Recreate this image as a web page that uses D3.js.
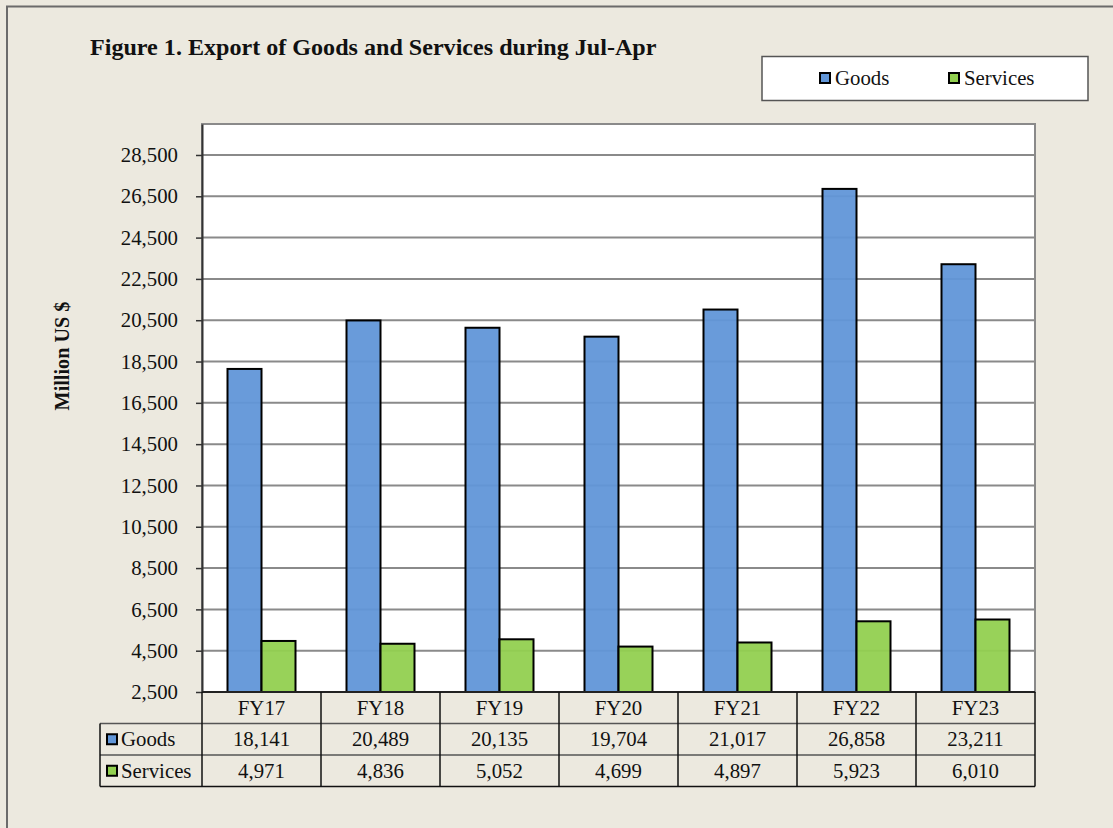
<!DOCTYPE html>
<html>
<head>
<meta charset="utf-8">
<script src="https://cdn.jsdelivr.net/npm/d3@7"></script>
<style>
  body { margin: 0; background: #ece9df; }
  svg text { font-family: "Liberation Serif", "Times New Roman", serif; fill: #111; }
</style>
</head>
<body>
<div id="container"></div>
<script>
const categories = ['FY17', 'FY18', 'FY19', 'FY20', 'FY21', 'FY22', 'FY23'];
const goods = [18141, 20489, 20135, 19704, 21017, 26858, 23211];
const services = [4971, 4836, 5052, 4699, 4897, 5923, 6010];
const seriesNames = ['Goods', 'Services'];
const yTicks = [2500, 4500, 6500, 8500, 10500, 12500, 14500, 16500, 18500, 20500, 22500, 24500, 26500, 28500];

const colors = { Goods: '#6196d8', Services: '#92d050' };

const width = 1113;
const height = 828;
const plotLeft = 202, plotRight = 1035, plotTop = 124, plotBottom = 692;
const rowH = 31.5;
const fs = 20.8;

const svg = d3.select('#container')
  .append('svg')
  .attr('width', width)
  .attr('height', height);

svg.append('rect')
  .attr('width', width).attr('height', height)
  .attr('fill', '#ece9df');

// outer frame, only left and top edges show
svg.append('path')
  .attr('d', `M7,${height} V6.5 H${width}`)
  .attr('fill', 'none')
  .attr('stroke', '#6b6b6b')
  .attr('stroke-width', 2);

svg.append('text')
  .attr('x', 90).attr('y', 55)
  .attr('font-size', 24.1)
  .attr('font-weight', 'bold')
  .text('Figure 1. Export of Goods and Services during Jul-Apr');

const xScale = d3.scaleBand()
  .domain(categories)
  .range([plotLeft, plotRight]);

const inner = d3.scaleBand()
  .domain(seriesNames)
  .range([0, xScale.bandwidth()])
  .paddingInner(0)
  .paddingOuter(0.75);

const yScale = d3.scaleLinear()
  .domain([2500, 30000])
  .range([plotBottom, plotTop]);

// plot background
svg.append('rect')
  .attr('x', plotLeft).attr('y', plotTop)
  .attr('width', plotRight - plotLeft).attr('height', plotBottom - plotTop)
  .attr('fill', '#fff')
  .attr('stroke', '#8a8a8a')
  .attr('stroke-width', 2);

// gridlines
svg.append('g')
  .selectAll('line')
  .data(yTicks)
  .enter()
  .append('line')
  .attr('x1', plotLeft).attr('x2', plotRight)
  .attr('y1', d => yScale(d)).attr('y2', d => yScale(d))
  .attr('stroke', '#8a8a8a')
  .attr('stroke-width', 2);

// y axis
const yAxis = d3.axisLeft(yScale)
  .tickValues(yTicks)
  .tickFormat(d3.format(','))
  .tickSize(6)
  .tickSizeOuter(0)
  .tickPadding(18);

const yg = svg.append('g')
  .attr('transform', `translate(${plotLeft},0)`)
  .call(yAxis);
yg.select('.domain').attr('stroke', '#333').attr('stroke-width', 2);
yg.selectAll('.tick line').attr('stroke', '#333').attr('stroke-width', 1.5);
yg.selectAll('.tick text')
  .attr('font-size', fs)
  .attr('fill', '#111');

svg.append('text')
  .attr('transform', `translate(69,356) rotate(-90)`)
  .attr('text-anchor', 'middle')
  .attr('font-size', 20.2)
  .attr('font-weight', 'bold')
  .text('Million US $');

// bars
const data = categories.map((c, i) => ({ cat: c, Goods: goods[i], Services: services[i] }));

const groups = svg.append('g')
  .selectAll('g')
  .data(data)
  .enter()
  .append('g')
  .attr('transform', d => `translate(${xScale(d.cat)},0)`);

groups.selectAll('rect')
  .data(d => seriesNames.map(s => ({ s, v: d[s] })))
  .enter()
  .append('rect')
  .attr('x', d => inner(d.s))
  .attr('y', d => yScale(d.v))
  .attr('width', inner.bandwidth())
  .attr('height', d => yScale(2500) - yScale(d.v))
  .attr('fill', d => colors[d.s])
  .attr('fill-opacity', 0.95)
  .attr('stroke', '#000')
  .attr('stroke-width', 2);

// x axis line
svg.append('line')
  .attr('x1', plotLeft).attr('x2', plotRight)
  .attr('y1', plotBottom).attr('y2', plotBottom)
  .attr('stroke', '#222').attr('stroke-width', 2);

// data table
const tableLeft = 100;
const table = svg.append('g');

table.selectAll('text.cat')
  .data(categories)
  .enter()
  .append('text')
  .attr('class', 'cat')
  .attr('x', d => xScale(d) + xScale.bandwidth() / 2)
  .attr('y', plotBottom + rowH / 2 + 7)
  .attr('text-anchor', 'middle')
  .attr('font-size', fs)
  .text(d => d);

const rows = [goods, services];
rows.forEach((vals, r) => {
  const y0 = plotBottom + rowH * (r + 1);
  table.selectAll(`text.v${r}`)
    .data(vals)
    .enter()
    .append('text')
    .attr('x', (d, i) => xScale(categories[i]) + xScale.bandwidth() / 2)
    .attr('y', y0 + rowH / 2 + 7)
    .attr('text-anchor', 'middle')
    .attr('font-size', fs)
    .text(d => d3.format(',')(d));

  table.append('rect')
    .attr('x', tableLeft + 7).attr('y', y0 + rowH / 2 - 5)
    .attr('width', 10).attr('height', 10)
    .attr('fill', colors[seriesNames[r]])
    .attr('stroke', '#000').attr('stroke-width', 2);
  table.append('text')
    .attr('x', tableLeft + 21).attr('y', y0 + rowH / 2 + 7)
    .attr('font-size', fs)
    .text(seriesNames[r]);
});

// table grid lines
const tableBottom = plotBottom + rowH * 3;
[1, 2].forEach(r => {
  table.append('line')
    .attr('x1', tableLeft).attr('x2', plotRight)
    .attr('y1', plotBottom + rowH * r).attr('y2', plotBottom + rowH * r)
    .attr('stroke', '#555').attr('stroke-width', 1.5);
});
table.append('line')
  .attr('x1', tableLeft).attr('x2', plotRight)
  .attr('y1', tableBottom).attr('y2', tableBottom)
  .attr('stroke', '#111').attr('stroke-width', 1.5);
table.append('line')
  .attr('x1', tableLeft).attr('x2', tableLeft)
  .attr('y1', plotBottom + rowH).attr('y2', tableBottom)
  .attr('stroke', '#111').attr('stroke-width', 1.5);
table.selectAll('line.col')
  .data(categories.concat(['end']))
  .enter()
  .append('line')
  .attr('x1', (d, i) => plotLeft + i * xScale.step())
  .attr('x2', (d, i) => plotLeft + i * xScale.step())
  .attr('y1', plotBottom).attr('y2', tableBottom)
  .attr('stroke', '#111').attr('stroke-width', 1.5);

// legend
const legend = svg.append('g');
legend.append('rect')
  .attr('x', 762).attr('y', 56.5)
  .attr('width', 326).attr('height', 44)
  .attr('fill', '#fff')
  .attr('stroke', '#555').attr('stroke-width', 1.5);

const legendX = [820, 949];
seriesNames.forEach((s, i) => {
  legend.append('rect')
    .attr('x', legendX[i]).attr('y', 73)
    .attr('width', 10).attr('height', 10)
    .attr('fill', colors[s])
    .attr('stroke', '#000').attr('stroke-width', 2);
  legend.append('text')
    .attr('x', legendX[i] + 15).attr('y', 85)
    .attr('font-size', fs)
    .text(s);
});
</script>
</body>
</html>
